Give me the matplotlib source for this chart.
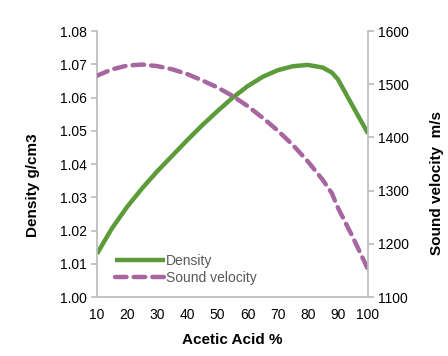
import matplotlib
matplotlib.use('Agg')
import matplotlib.pyplot as plt

plt.rcParams['font.family'] = ['Liberation Sans', 'DejaVu Sans']

# данные
acid = [10, 15, 20, 25, 30, 35, 40, 45, 50, 55, 60, 65, 70, 75, 80, 85, 88, 90, 95, 100]
density = [1.0130, 1.0207, 1.0271, 1.0327, 1.0378, 1.0425, 1.0472, 1.0517, 1.0559, 1.0599,
           1.0634, 1.0662, 1.0682, 1.0694, 1.0698, 1.0690, 1.0675, 1.0655, 1.0573, 1.0492]
velocity = [1516, 1528, 1535, 1537, 1534, 1528, 1519, 1507, 1494, 1478,
            1459, 1437, 1413, 1386, 1355, 1320, 1295, 1268, 1212, 1152]

x_ticks = [10, 20, 30, 40, 50, 60, 70, 80, 90, 100]
d_ticks = [1.00, 1.01, 1.02, 1.03, 1.04, 1.05, 1.06, 1.07, 1.08]
v_ticks = [1100, 1200, 1300, 1400, 1500, 1600]

green = '#5B9B3A'
purple = '#A866A0'
gray = '#BFBFBF'

fig = plt.figure(figsize=(4.48, 3.56), dpi=100)
ax = fig.add_axes([0.2165, 0.1657, 0.6049, 0.7472])
ax2 = ax.twinx()

l1, = ax.plot(acid, density, color=green, linewidth=3.2, solid_capstyle='butt', label='Density')
l2, = ax2.plot(acid, velocity, color=purple, linewidth=3.2, dashes=(2.6, 1.6),
               dash_capstyle='round', label='Sound velocity')

ax.set_xlim(10, 100)
ax.set_ylim(1.00, 1.08)
ax2.set_ylim(1100, 1600)
ax.set_xticks(x_ticks)
ax.set_yticks(d_ticks)
ax.set_yticklabels([f'{t:.2f}' for t in d_ticks])
ax2.set_yticks(v_ticks)

for a in (ax, ax2):
    a.spines['top'].set_visible(False)
    for s in a.spines.values():
        s.set_color(gray)
        s.set_linewidth(1.3)
    a.tick_params(colors=gray, labelcolor='black', labelsize=10, width=1.3, length=4)
ax.tick_params(axis='x', length=0, pad=8)
ax.spines['right'].set_visible(False)
ax2.spines['left'].set_visible(False)
ax2.spines['bottom'].set_visible(False)

ax.set_xlabel('Acetic Acid %', fontsize=11, fontweight='bold', labelpad=8)
ax.set_ylabel('Density g/cm3', fontsize=11, fontweight='bold')
ax.yaxis.set_label_coords(-0.21, 0.42)
ax2.set_ylabel('Sound velocity  m/s', fontsize=11, fontweight='bold')
ax2.yaxis.set_label_coords(1.23, 0.43)

leg = ax.legend(handles=[l1, l2], loc='lower left', bbox_to_anchor=(0.03, 0.01),
                frameon=False, fontsize=10, handlelength=3.6, handletextpad=0.1,
                labelspacing=0.2, borderaxespad=0.3)
for t in leg.get_texts():
    t.set_color('#595959')

fig.savefig('out.png', dpi=100)
